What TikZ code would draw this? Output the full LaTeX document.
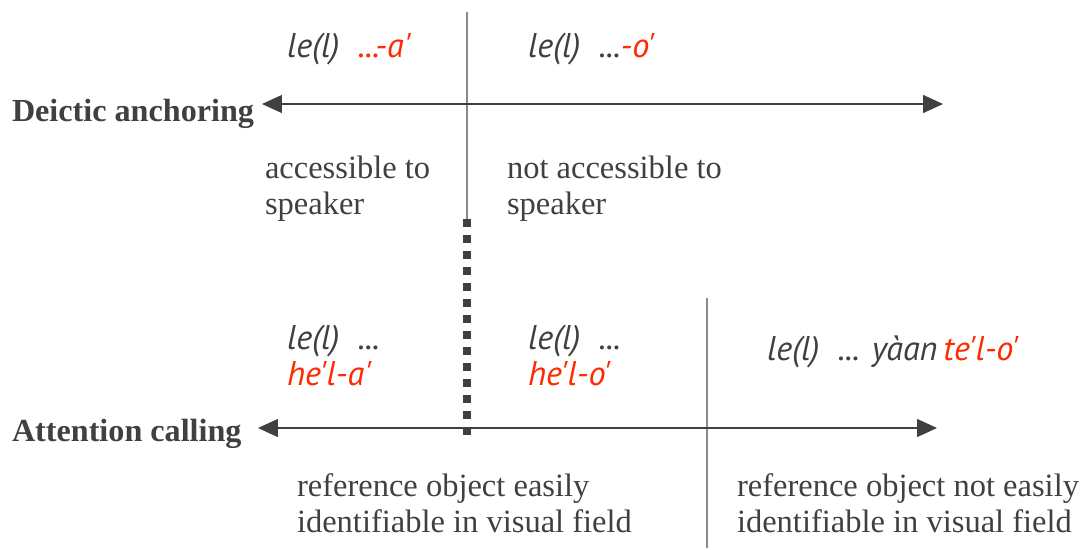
\documentclass[tikz,border=0pt]{standalone}
\usepackage{fontspec}
\setmainfont{Liberation Serif}
\newfontfamily\itsans{PT Sans}[Ligatures=NoCommon]
\usetikzlibrary{arrows.meta}
\definecolor{txt}{HTML}{404040}
\definecolor{red1}{HTML}{FF2A00}
\definecolor{vline}{HTML}{8A8A8A}
\newcommand{\q}{{\char"0027}}
\begin{document}
\begin{tikzpicture}[x=0.02cm,y=-0.02cm,
  every node/.style={inner sep=0pt,outer sep=0pt,text=txt,font=\fontsize{18.5pt}{20.4pt}\selectfont},
  lbl/.style={anchor=base west,align=left},
  ttl/.style={anchor=base west,font=\fontsize{18.3pt}{20.4pt}\selectfont\bfseries},
  ex/.style={anchor=base west,align=left,font=\fontsize{19.5pt}{20.4pt}\selectfont\itsans\itshape},
  axis/.style={draw=txt,line width=0.85pt,{Triangle[length=0.4cm,width=0.36cm]}-{Triangle[length=0.4cm,width=0.36cm]}},
  divider/.style={draw=vline,line width=0.85pt},
  dots/.style={draw=txt,line width=0.16cm,dash pattern=on 0.16cm off 0.16cm}]
\useasboundingbox (0,0) rectangle (1080,549);
% coordinates
\coordinate (tL) at (262,104);
\coordinate (tR) at (943,104);
\coordinate (bL) at (258,428);
\coordinate (bR) at (937,428);
\coordinate (v1a) at (467,12);
\coordinate (v1b) at (467,219);
\coordinate (d1a) at (467,219);
\coordinate (d1b) at (467,435);
\coordinate (v2a) at (707,298);
\coordinate (v2b) at (707,548);
% lines
\draw[divider] (v1a) -- (v1b);
\draw[dots] (d1a) -- (d1b);
\draw[divider] (v2a) -- (v2b);
\draw[axis] (tL) -- (tR);
\draw[axis] (bL) -- (bR);
% titles
\node[ttl] (deic) at (12,121) {Deictic anchoring};
\node[ttl] (attn) at (12,441) {Attention calling};
% top examples
\node[ex] (ex1) at (287,57) {le(l)\ \ \textcolor{red1}{...-a\q}};
\node[ex] (ex2) at (528,57) {le(l)\ \ ...\textcolor{red1}{-o\q}};
\node[lbl] (acc) at (265,214) {accessible to\\speaker};
\node[lbl] (nacc) at (507,214) {not accessible to\\speaker};
% bottom examples
\node[ex] (ex3) at (287,385) {le(l)\ \ ...\\\textcolor{red1}{he\q l-a\q}};
\node[ex] (ex4) at (528,385) {le(l)\ \ ...\\\textcolor{red1}{he\q l-o\q}};
\node[ex] (ex5) at (767,360) {le(l)\ \ ... yàan\,\textcolor{red1}{te\q l-o\q}};
\node[lbl] (ref1) at (297,532) {reference object easily\\identifiable in visual field};
\node[lbl] (ref2) at (737,532) {reference object not easily\\identifiable in visual field};
\end{tikzpicture}
\end{document}
